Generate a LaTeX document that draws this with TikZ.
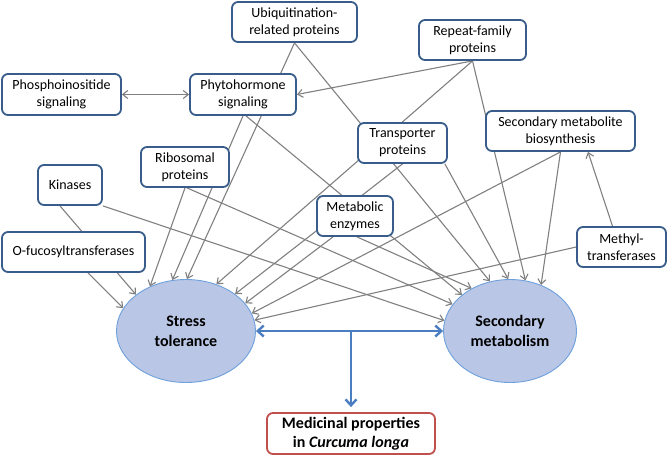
\documentclass[tikz,border=0pt]{standalone}
\usepackage{fontspec}
\setmainfont{Carlito}
\usetikzlibrary{arrows.meta,calc,backgrounds,shapes.geometric}
\definecolor{boxblue}{RGB}{56,93,138}
\definecolor{ovalfill}{RGB}{185,198,229}
\definecolor{ovalline}{RGB}{110,160,220}
\definecolor{linkgray}{RGB}{128,128,128}
\definecolor{mainblue}{RGB}{74,126,193}
\definecolor{medred}{RGB}{192,80,77}
\begin{document}
\begin{tikzpicture}[x=1pt,y=-1pt,
  box/.style={draw=boxblue,line width=1.8pt,rounded corners=6pt,fill=white,align=center,inner sep=0pt,font=\fontsize{14}{17}\selectfont},
  oval/.style={ellipse,draw=ovalline,line width=0.9pt,fill=ovalfill,align=center,inner sep=0pt,font=\fontsize{16}{20}\selectfont\bfseries},
  link/.style={draw=linkgray,line width=1.1pt,-{Straight Barb[length=5pt,width=8pt]}},
  bigarrow/.style={draw=mainblue,line width=2.4pt,-{Straight Barb[length=6pt,width=11pt]}}
]
\useasboundingbox (0,0) rectangle (668,456);

\node[box,minimum width=125pt,minimum height=40pt] (ub) at (294.5,22) {Ubiquitination-\\related proteins};
\node[box,minimum width=107pt,minimum height=40pt] (rep) at (472.5,40) {Repeat-family\\proteins};
\node[box,minimum width=119pt,minimum height=41pt] (pho) at (61.5,94.5) {Phosphoinositide\\signaling};
\node[box,minimum width=106pt,minimum height=41pt] (phy) at (243,94.5) {Phytohormone\\signaling};
\node[box,minimum width=89pt,minimum height=40pt] (tra) at (402.5,143) {Transporter\\proteins};
\node[box,minimum width=149pt,minimum height=40pt] (bio) at (560.5,131) {Secondary metabolite\\biosynthesis};
\node[box,minimum width=88pt,minimum height=40pt] (rib) at (185,167) {Ribosomal\\proteins};
\node[box,minimum width=64pt,minimum height=40pt] (kin) at (70,185) {Kinases};
\node[box,minimum width=76pt,minimum height=40pt] (met) at (355,216) {Metabolic\\enzymes};
\node[box,minimum width=143pt,minimum height=40pt] (ofu) at (73.5,252) {O-fucosyltransferases};
\node[box,minimum width=89pt,minimum height=40pt] (mth) at (621.5,247) {Methyl-\\transferases};
\node[oval,minimum width=139pt,minimum height=103pt] (st) at (186,331) {Stress\\tolerance};
\node[oval,minimum width=133pt,minimum height=103pt] (sm) at (510,331) {Secondary\\metabolism};
\node[box,draw=medred,minimum width=168pt,minimum height=41pt,font=\fontsize{16}{19}\selectfont\bfseries] (med) at (351,433.5) {Medicinal properties\\in \textit{Curcuma longa}};

\begin{scope}[on background layer]
  % to stress tolerance
  \draw[link] ([xshift=14.5pt]ofu.south) -- (st.160);
  \draw[link] ([xshift=-10pt]kin.south) -- (st.144);
  \draw[link] (rib.south) -- (st.129);
  \draw[link] (phy.south) -- (st.105);
  \draw[link] (ub.south) -- (st.89);
  \draw[link] (rep.south) -- (st.57);
  \draw[link] (tra.south) -- (st.37);
  \draw[link] ([xshift=-22pt]met.south) -- (st.25);
  \draw[link] (bio.south) -- (st.15);
  \draw[link] (mth.west) -- (st.9);
  % to secondary metabolism
  \draw[link] (kin.south east) -- (sm.171);
  \draw[link] ([xshift=2pt]rib.south) -- (sm.155);
  \draw[link] ([xshift=3pt]phy.south) -- (sm.143);
  \draw[link] ([xshift=2pt]met.south) -- (sm.132);
  \draw[link] (ub.south) -- (sm.112);
  \draw[link] ([xshift=-3pt]tra.south east) -- (sm.92);
  \draw[link] (rep.south) -- (sm.73);
  \draw[link] (bio.south) -- (sm.56);
  % others
  \draw[link] (rep.south) -- (phy.east);
  \draw[link] ([xshift=-9pt]mth.north) -- ([xshift=27.5pt]bio.south);
  \draw[link,{Straight Barb[length=5pt,width=8pt]}-{Straight Barb[length=5pt,width=8pt]}] (pho.east) -- (phy.west);
\end{scope}

\coordinate (j) at (med.north |- st.east);
\draw[bigarrow,{Straight Barb[length=6pt,width=11pt]}-{Straight Barb[length=6pt,width=11pt]}] (st.east) -- (sm.west);
\draw[bigarrow,shorten >=5pt] (j) -- (med.north);
\end{tikzpicture}
\end{document}
